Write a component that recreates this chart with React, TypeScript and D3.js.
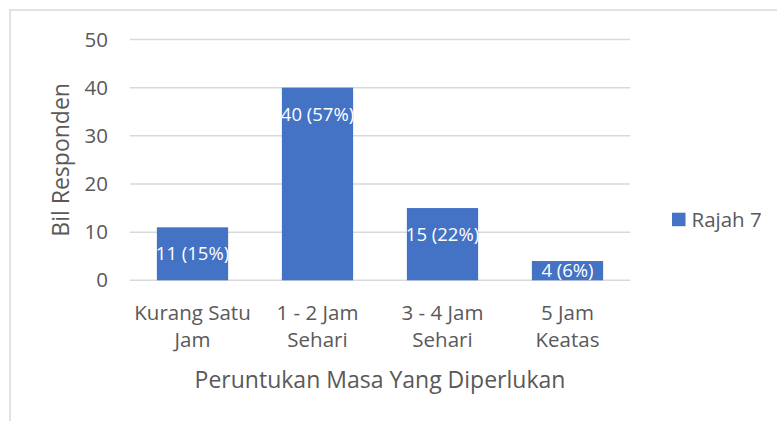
import React from 'react';
import * as d3 from 'd3';

const categories = [['Kurang Satu', 'Jam'], ['1 - 2 Jam', 'Sehari'], ['3 - 4 Jam', 'Sehari'], ['5 Jam', 'Keatas']];
const values = [11, 40, 15, 4];
const dataLabels = ['11 (15%)', '40 (57%)', '15 (22%)', '4 (6%)'];
const yTicks = [0, 10, 20, 30, 40, 50];
const seriesName = 'Rajah 7';

const W = 777;
const H = 421;
const FONT = "'Open Sans', 'Segoe UI', sans-serif";
const TEXT = '#595959';
const GRID = '#d9d9d9';
const BAR = '#4472c4';

export default function App() {
  const margin = { left: 130, right: 147, top: 39.5, bottom: 140.7 };

  const x = d3.scaleBand<number>()
    .domain(categories.map((_, i) => i))
    .range([margin.left, W - margin.right])
    .paddingInner(0.43)
    .paddingOuter(0.215);

  const y = d3.scaleLinear()
    .domain([0, 50])
    .range([H - margin.bottom, margin.top]);

  const plotMidY = (y(0) + y(50)) / 2;
  const plotMidX = (margin.left + W - margin.right) / 2;

  return (
    <div style={{ position: 'absolute', left: 0, top: 0 }}>
      <svg width={W} height={H} style={{ display: 'block', fontFamily: FONT }}>
        <rect x={0} y={0} width={W} height={H} fill="#fff" />
        {/* chart area border (clipped on the right and bottom) */}
        <path d={`M10,${H} L10,10 L${W},10`} fill="none" stroke={GRID} strokeWidth={1.5} />

        <defs>
          {values.map((v, i) => (
            <clipPath id={`bar-clip-${i}`} key={i}>
              <rect x={x(i)} y={y(v)} width={x.bandwidth()} height={y(0) - y(v)} />
            </clipPath>
          ))}
        </defs>

        {/* gridlines and y ticks */}
        {yTicks.map(t => (
          <g key={t}>
            <line x1={margin.left} x2={W - margin.right} y1={y(t)} y2={y(t)} stroke={GRID} strokeWidth={1.5} />
            <text x={108} y={y(t)} dy="0.35em" textAnchor="end" fontSize={20.5} fill={TEXT}>{t}</text>
          </g>
        ))}

        {/* bars */}
        {values.map((v, i) => {
          const top = y(v);
          const h = y(0) - top;
          const ly = Math.min(top + 26.5, top + h / 2);
          return (
            <g key={i}>
              <rect x={x(i)} y={top} width={x.bandwidth()} height={h} fill={BAR} />
              <text
                x={x(i)! + x.bandwidth() / 2}
                y={ly}
                dy="0.35em"
                textAnchor="middle"
                fontSize={18.5}
                fill="#fff"
                clipPath={`url(#bar-clip-${i})`}
              >
                {dataLabels[i]}
              </text>
            </g>
          );
        })}

        {/* category labels */}
        {categories.map((lines, i) => (
          <text key={i} x={x(i)! + x.bandwidth() / 2} textAnchor="middle" fontSize={20.5} fill={TEXT}>
            {lines.map((l, j) => (
              <tspan key={j} x={x(i)! + x.bandwidth() / 2} y={312.7 + j * 27.3} dy="0.35em">{l}</tspan>
            ))}
          </text>
        ))}

        {/* axis titles */}
        <text x={plotMidX} y={380} dy="0.35em" textAnchor="middle" fontSize={23} fill={TEXT}>
          Peruntukan Masa Yang Diperlukan
        </text>
        <text
          transform={`translate(61,${plotMidY}) rotate(-90)`}
          dy="0.35em"
          textAnchor="middle"
          fontSize={23}
          fill={TEXT}
        >
          Bil Responden
        </text>

        {/* legend */}
        <rect x={672} y={212.7} width={13.5} height={13.5} fill={BAR} />
        <text x={691.5} y={219.5} dy="0.35em" fontSize={20.5} fill={TEXT}>{seriesName}</text>
      </svg>
    </div>
  );
}
